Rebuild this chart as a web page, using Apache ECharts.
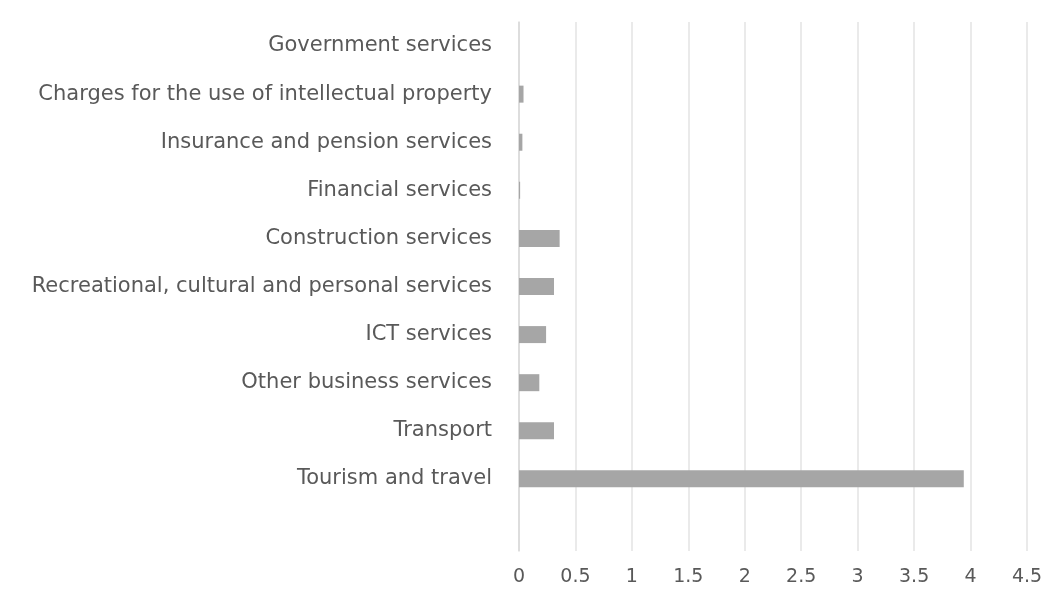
<!DOCTYPE html>
<html>
<head>
<meta charset="utf-8">
<script src="https://cdn.jsdelivr.net/npm/echarts@6/dist/echarts.min.js"></script>
<style>
  html, body { margin: 0; padding: 0; background: #fff; }
  #chart { width: 1059px; height: 608px; }
</style>
</head>
<body>
<div id="chart"></div>
<script>
// categories bottom -> top (last empty slot pads the bottom like the original)
const categories = [
  '',
  'Tourism and travel',
  'Transport',
  'Other business services',
  'ICT services',
  'Recreational, cultural and personal services',
  'Construction services',
  'Financial services',
  'Insurance and pension services',
  'Charges for the use of intellectual property',
  'Government services'
];
const values = [null, 3.94, 0.31, 0.18, 0.24, 0.31, 0.36, 0.01, 0.03, 0.04, 0];

const chart = echarts.init(document.getElementById('chart'));
chart.setOption({
  animation: false,
  backgroundColor: '#fff',
  textStyle: { fontFamily: 'DejaVu Sans' },
  grid: { left: 519, right: 32, top: 22, bottom: 57, containLabel: false, outerBoundsMode: 'none' },
  xAxis: {
    type: 'value', min: 0, max: 4.5, interval: 0.5,
    axisLine: { show: false },
    axisTick: { show: false },
    axisLabel: { color: '#595959', fontSize: 19, margin: 17 },
    splitLine: { lineStyle: { color: '#e3e3e3', width: 1.5 } }
  },
  yAxis: {
    type: 'category', data: categories,
    axisLine: { show: true, lineStyle: { color: '#d9d9d9', width: 1.5 } },
    axisTick: { show: false },
    axisLabel: { color: '#595959', fontSize: 21, margin: 27 }
  },
  series: [{
    type: 'bar', data: values, barWidth: 17,
    itemStyle: { color: '#a6a6a6' }
  }]
});
</script>
</body>
</html>
